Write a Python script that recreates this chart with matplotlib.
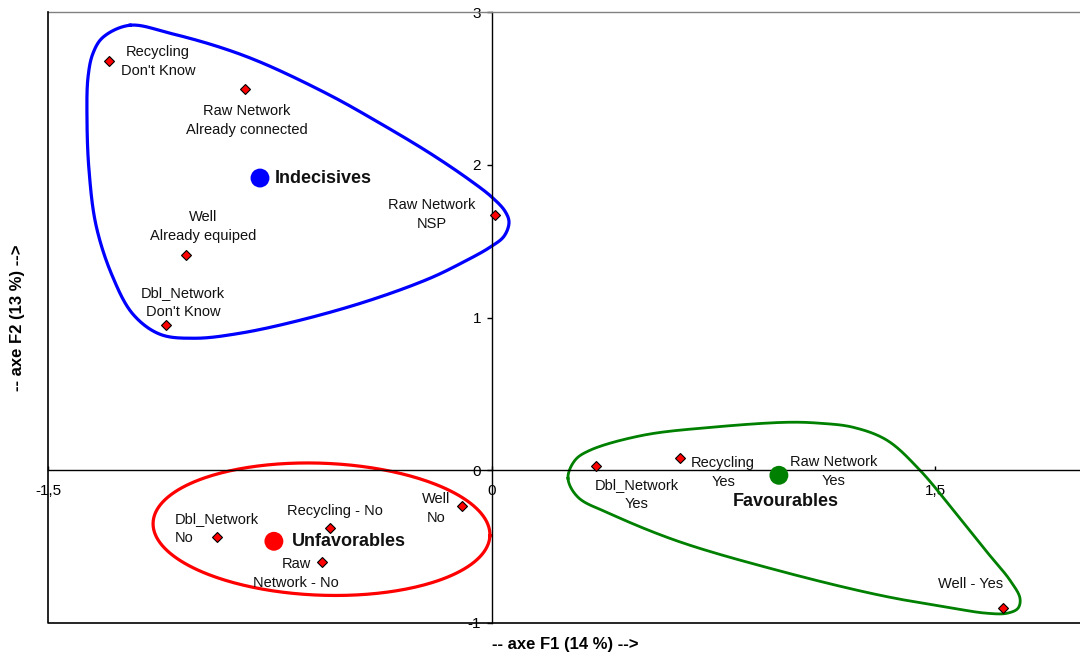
import numpy as np
import matplotlib
matplotlib.use("Agg")
import matplotlib.pyplot as plt

plt.rcParams['font.family'] = ['Liberation Sans', 'DejaVu Sans']

# ---------------- data ----------------
point_labels = ["Recycling\nDon't Know", "Raw Network\nAlready connected", "Well\nAlready equiped",
                "Dbl_Network\nDon't Know", "Raw Network\nNSP",
                "Dbl_Network\nNo", "Recycling - No", "Raw\nNetwork - No", "Well\nNo",
                "Dbl_Network\nYes", "Recycling\nYes", "Raw Network\nYes", "Well - Yes"]
point_x = [-1.294, -0.835, -1.033, -1.101, 0.012,
           -0.928, -0.546, -0.573, -0.100,
           0.353, 0.638, 0.972, 1.730]
point_y = [2.678, 2.494, 1.408, 0.949, 1.669,
           -0.439, -0.380, -0.602, -0.236,
           0.026, 0.079, -0.033, -0.903]

group_names = ["Indecisives", "Unfavorables", "Favourables"]
group_x = [-0.783, -0.736, 0.972]
group_y = [1.913, -0.465, -0.033]
group_colors = ["#0000FF", "#FF0000", "#008000"]

# outline of the "Indecisives" group
blue_outline_x = [-1.2227, -1.0874, -0.9182, -0.7728, -0.5462, -0.3771, -0.2080, -0.0727, 0.0017,
                  0.0457, 0.0592, 0.0423, -0.0051, -0.0964, -0.2080, -0.4109, -0.6477, -0.8506,
                  -1.0028, -1.1212, -1.2125, -1.2835, -1.3376, -1.3613, -1.3681, -1.3647, -1.3478, -1.3140]
blue_outline_y = [2.9133, 2.8609, 2.7692, 2.6645, 2.4550, 2.2717, 2.0753, 1.8985, 1.7872,
                  1.6956, 1.6236, 1.5319, 1.4599, 1.3617, 1.2570, 1.1129, 0.9820, 0.8969,
                  0.8642, 0.8903, 1.0213, 1.2766, 1.6039, 1.9640, 2.2913, 2.5728, 2.7300, 2.8347]
# outline of the "Favourables" group
green_outline_x = [0.2587, 0.2824, 0.3331, 0.5124, 0.7457, 1.0028, 1.1110, 1.2226, 1.3376, 1.4492,
                   1.5676, 1.6792, 1.7536, 1.7874, 1.7807, 1.7435, 1.6758, 1.5608, 1.3139,
                   0.9791, 0.6308, 0.3974, 0.2926]
green_outline_y = [-0.0524, 0.0655, 0.1309, 0.2291, 0.2815, 0.3142, 0.3077, 0.2815, 0.1964, 0.0,
                   -0.2750, -0.5434, -0.7201, -0.8380, -0.9034, -0.9362, -0.9362, -0.9034, -0.8183,
                   -0.6612, -0.4648, -0.2815, -0.1768]
# ellipse of the "Unfavorables" group (center, width, height in axis units)
red_center = (-0.575, -0.386)
red_width = 1.140
red_height = 0.864

x_ticks = [-1.5, 0, 1.5]
x_ticklabels = ["-1,5", "0", "1,5"]
y_ticks = [-1, 0, 1, 2, 3]
y_ticklabels = ["-1", "0", "1", "2", "3"]

# ---------------- layout ----------------
W, H, DPI = 1080, 662, 100
fig = plt.figure(figsize=(W / DPI, H / DPI), dpi=DPI)
ax = fig.add_axes([48 / W, (H - 623) / H, 1032 / W, 611 / H])
ax.set_xlim(-1.5, -1.5 + 1032 / 295.67)
ax.set_ylim(-1, 3)
SX = 295.67
SY = 152.75


def closed_smooth(xs, ys, n=30):
    P = np.column_stack([np.asarray(xs) * SX, np.asarray(ys) * SY])
    N = len(P)
    out = []
    for i in range(N):
        p0, p1, p2, p3 = P[(i - 1) % N], P[i], P[(i + 1) % N], P[(i + 2) % N]
        a = 0.5
        t0 = 0.0
        t1 = t0 + np.linalg.norm(p1 - p0) ** a
        t2 = t1 + np.linalg.norm(p2 - p1) ** a
        t3 = t2 + np.linalg.norm(p3 - p2) ** a
        t = np.linspace(t1, t2, n, endpoint=False)[:, None]
        A1 = (t1 - t) / (t1 - t0) * p0 + (t - t0) / (t1 - t0) * p1
        A2 = (t2 - t) / (t2 - t1) * p1 + (t - t1) / (t2 - t1) * p2
        A3 = (t3 - t) / (t3 - t2) * p2 + (t - t2) / (t3 - t2) * p3
        B1 = (t2 - t) / (t2 - t0) * A1 + (t - t0) / (t2 - t0) * A2
        B2 = (t3 - t) / (t3 - t1) * A2 + (t - t1) / (t3 - t1) * A3
        C = (t2 - t) / (t2 - t1) * B1 + (t - t1) / (t2 - t1) * B2
        out.append(C)
    out = np.vstack(out + [out[0][:1]])
    return out[:, 0] / SX, out[:, 1] / SY


# outlines
bx, by = closed_smooth(blue_outline_x, blue_outline_y)
ax.plot(bx, by, color=group_colors[0], lw=2.3, solid_joinstyle='round', zorder=2)
gx, gy = closed_smooth(green_outline_x, green_outline_y)
ax.plot(gx, gy, color=group_colors[2], lw=2.0, solid_joinstyle='round', zorder=2)
tt = np.linspace(0, 2 * np.pi, 300)
ang = np.deg2rad(-2.2)
u = red_width * SX / 2 * np.cos(tt)
v = red_height * SY / 2 * np.sin(tt)
ur = u * np.cos(ang) - v * np.sin(ang)
vr = u * np.sin(ang) + v * np.cos(ang)
ax.plot(red_center[0] + ur / SX, red_center[1] + vr / SY, color=group_colors[1], lw=2.3, zorder=2)

# points
ax.plot(point_x, point_y, linestyle='none', marker='D', markersize=5,
        markerfacecolor='#FF0000', markeredgecolor='black', markeredgewidth=0.8, zorder=4)

# point label offsets in pixels (dx right, dy down) + alignment
label_style = [
    (49, 0, 'center'), (2, 31, 'center'), (17, -29, 'center'), (17, -23, 'center'), (-63, -1, 'center'),
    (0, -9, 'left'), (5, -17, 'center'), (-26, 11, 'center'), (-26, 2, 'center'),
    (41, 28, 'center'), (43, 14, 'center'), (55, -4, 'center'), (-32, -24, 'center'),
]
for lab, x, y, (dx, dy, ma) in zip(point_labels, point_x, point_y, label_style):
    ax.annotate(lab, (x, y), xytext=(dx, -dy), textcoords='offset pixels',
                ha='center', va='center', multialignment=ma, fontsize=10.5,
                linespacing=1.45, color='#111111', zorder=5)

# group centroids
ax.scatter(group_x, group_y, s=185, c=group_colors, zorder=6, linewidths=0)
group_label_style = [(15, 0, 'left'), (18, 0, 'left'), (7, 26, 'center')]
for name, x, y, (dx, dy, ha) in zip(group_names, group_x, group_y, group_label_style):
    ax.annotate(name, (x, y), xytext=(dx, -dy), textcoords='offset pixels',
                ha=ha, va='center', fontsize=13, fontweight='bold', color='#111111', zorder=7)

# axes through origin
for s in ['left', 'bottom']:
    ax.spines[s].set_position(('data', 0))
    ax.spines[s].set_linewidth(1.0)
    ax.spines[s].set_color('black')
ax.spines['right'].set_visible(False)
ax.spines['top'].set_color('#808080')
ax.spines['top'].set_linewidth(1.0)
ax.plot([0, 0, 1], [1, 0, 0], transform=ax.transAxes, color='black', lw=1.2,
        clip_on=False, zorder=3)

ax.set_xticks(x_ticks)
ax.set_xticklabels(x_ticklabels)
ax.set_yticks(y_ticks)
ax.set_yticklabels(y_ticklabels)
ax.tick_params(axis='x', direction='in', length=3, width=1, pad=10, labelsize=11)
ax.tick_params(axis='y', direction='out', length=3.5, width=1, pad=4, labelsize=11)

fig.text(18 / W, 1 - 317.5 / H, "-- axe F2 (13 %) -->", rotation=90, ha='center', va='center',
         fontsize=12, fontweight='bold')
fig.text(565 / W, 1 - 644 / H, "-- axe F1 (14 %) -->", ha='center', va='center',
         fontsize=12, fontweight='bold')

fig.savefig("out.png", dpi=DPI)
